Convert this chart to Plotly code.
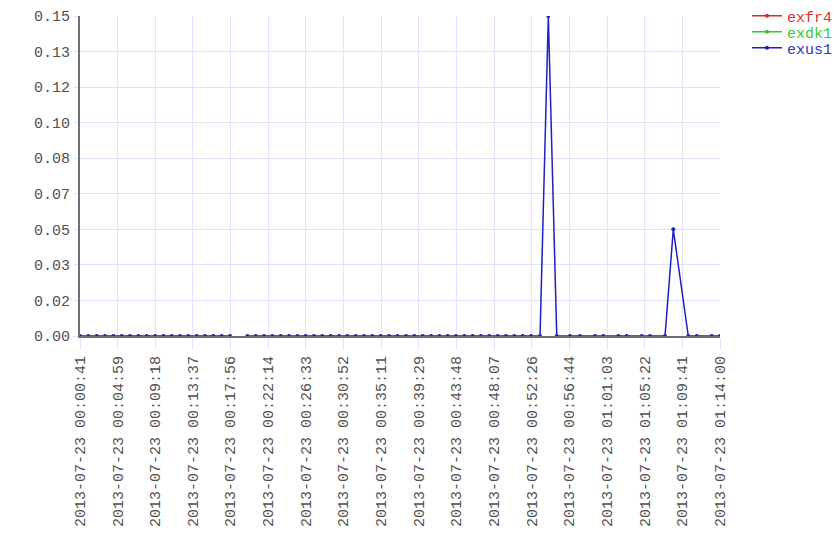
import plotly.graph_objects as go
from datetime import datetime

# ---- data ----
times = [
    "00:00:41", "00:01:38", "00:02:36", "00:03:33", "00:04:30", "00:05:28", "00:06:25",
    "00:07:22", "00:08:19", "00:09:17", "00:10:14", "00:11:11", "00:12:08", "00:13:05",
    "00:14:03", "00:15:00", "00:15:57", "00:16:55", "00:17:52", "00:18:52",
    "00:19:51", "00:20:49", "00:21:46", "00:22:43", "00:23:41", "00:24:38", "00:25:35",
    "00:26:32", "00:27:29", "00:28:26", "00:29:24", "00:30:21", "00:31:18", "00:32:16",
    "00:33:13", "00:34:10", "00:35:08", "00:36:05", "00:37:03", "00:38:02", "00:38:59",
    "00:39:57", "00:40:54", "00:41:51", "00:42:48", "00:43:45", "00:44:43", "00:45:40",
    "00:46:37", "00:47:34", "00:48:32", "00:49:29", "00:50:26", "00:51:24", "00:52:21",
    "00:53:23", "00:54:20", "00:55:18", "00:56:49", "00:57:58", "00:59:41", "01:00:38",
    "01:02:21", "01:03:19", "01:05:02", "01:05:59", "01:07:42", "01:08:39", "01:10:22",
    "01:11:20", "01:13:03", "01:14:00",
]
exus1 = (
    [0.0] * 19 + [None] + [0.0] * 36 + [0.15] + [0.0] * 10 + [0.05] + [0.0] * 4
)
exfr4 = [None] * len(times)
exdk1 = [None] * len(times)

date = "2013-07-23"
x_tick_labels = [
    "2013-07-23 00:00:41", "2013-07-23 00:04:59", "2013-07-23 00:09:18",
    "2013-07-23 00:13:37", "2013-07-23 00:17:56", "2013-07-23 00:22:14",
    "2013-07-23 00:26:33", "2013-07-23 00:30:52", "2013-07-23 00:35:11",
    "2013-07-23 00:39:29", "2013-07-23 00:43:48", "2013-07-23 00:48:07",
    "2013-07-23 00:52:26", "2013-07-23 00:56:44", "2013-07-23 01:01:03",
    "2013-07-23 01:05:22", "2013-07-23 01:09:41", "2013-07-23 01:14:00",
]
y_tick_labels = ["0.00", "0.02", "0.03", "0.05", "0.07", "0.08", "0.10", "0.12", "0.13", "0.15"]
y_max = 0.15

# ---- build ----
xs = [datetime.strptime(f"{date} {t}", "%Y-%m-%d %H:%M:%S") for t in times]
t0, t1 = xs[0], xs[-1]
n_x = len(x_tick_labels)
x_tick_vals = [t0 + (t1 - t0) * i / (n_x - 1) for i in range(n_x)]
n_y = len(y_tick_labels)
y_tick_vals = [y_max * i / (n_y - 1) for i in range(n_y)]

FONT = "Liberation Mono, Courier New, monospace"
GRID = "#e2e2fc"
TXT = "#505050"

series = [
    ("exfr4", exfr4, "#d42a2a", "#dd3333"),
    ("exdk1", exdk1, "#33c433", "#33cc33"),
    ("exus1", exus1, "#1f1fc8", "#3333cc"),
]

fig = go.Figure()
legend_ids = ["legend", "legend2", "legend3"]
for (name, ys, col, tcol), lid in zip(series, legend_ids):
    fig.add_trace(go.Scatter(
        x=xs, y=ys, name=f"<span style='color:{tcol}'>{name}</span>",
        mode="lines+markers",
        line=dict(color=col, width=1.5),
        marker=dict(color=col, size=4),
        connectgaps=False,
        legend=lid,
    ))

legend_common = dict(
    xanchor="left", yanchor="middle",
    font=dict(family=FONT, size=15),
    bgcolor="rgba(0,0,0,0)",
    itemwidth=30,
)
lx = (752 - 5 - 80) / 640
leg_y = [(336 - 16) / 320, (336 - 32) / 320, (336 - 48) / 320]
fig.update_layout(
    width=840, height=560,
    margin=dict(l=72, r=128, t=8, b=232, autoexpand=False),
    plot_bgcolor="white", paper_bgcolor="white",
    font=dict(family=FONT, size=15, color=TXT),
    showlegend=True,
    legend=dict(x=lx, y=leg_y[0], **legend_common),
    legend2=dict(x=lx, y=leg_y[1], **legend_common),
    legend3=dict(x=lx, y=leg_y[2], **legend_common),
)
fig.update_xaxes(
    range=[t0, t1], automargin=False,
    tickmode="array", tickvals=x_tick_vals, ticktext=x_tick_labels,
    tickangle=-90,
    showgrid=True, gridcolor=GRID, gridwidth=1,
    showline=True, linecolor="#6e6e76", linewidth=2,
    ticks="outside", ticklen=12, tickcolor=GRID,
    zeroline=False,
    tickfont=dict(family=FONT, size=15, color=TXT),
)
fig.update_yaxes(
    range=[0, y_max], automargin=False,
    tickmode="array", tickvals=y_tick_vals, ticktext=y_tick_labels,
    showgrid=True, gridcolor=GRID, gridwidth=1,
    showline=True, linecolor="#6e6e76", linewidth=2,
    ticks="outside", ticklen=5, tickcolor=GRID,
    zeroline=False,
    tickfont=dict(family=FONT, size=15, color=TXT),
)

fig.write_html("out.html")
